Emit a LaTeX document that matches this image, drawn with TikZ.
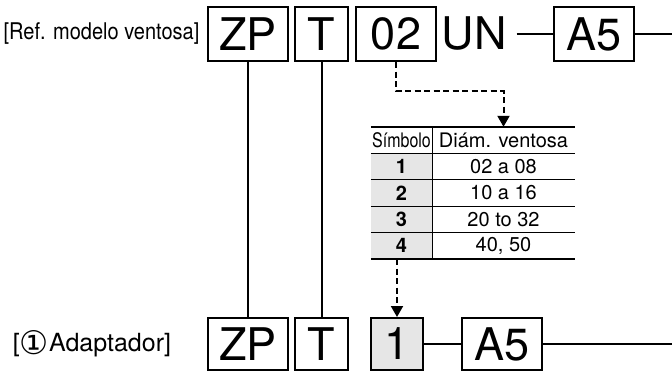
\documentclass[tikz,border=0pt]{standalone}
\usepackage{fontspec}
\setmainfont{TeX Gyre Heros}
\newfontfamily\symfont{DejaVu Sans}
\usepackage{graphicx}
\usepackage{tikz}
\usetikzlibrary{positioning,arrows.meta}
\definecolor{cellgray}{HTML}{E6E6E6}
\begin{document}
\begin{tikzpicture}[x=1pt,y=-1pt,font=\fontsize{45}{45}\selectfont,
  bx/.style={draw,line width=2pt,inner sep=0pt,minimum height=54pt},
  lab/.style={font=\fontsize{23}{23}\selectfont,inner sep=0pt},
  cell/.style={inner sep=0pt,minimum height=26.4pt,font=\fontsize{20}{20}\selectfont},
  dsh/.style={line width=2pt,dash pattern=on 6pt off 3.5pt}]
  \useasboundingbox (0,0) rectangle (672,372);
  % model code of the pad
  \node[lab] (lab1) at (101.5,34) {\scalebox{0.87}[1]{[Ref. modelo ventosa]}};
  \node[bx,minimum width=80pt] (zp1) at (248,34) {ZP};
  \node[bx,minimum width=53pt] (t1) at (321.5,34) {T};
  \node[bx,minimum width=80pt] (c1) at (396,34) {02};
  \node[inner sep=0pt] (un) at (474,34) {UN};
  \node[bx,minimum width=80pt] (a51) at (594,34) {A5};
  \coordinate (e1) at (672,34);
  \draw[line width=2.6pt] ([xshift=10pt]un.east) -- (a51.west);
  \draw[line width=2pt] (a51.east) -- (e1);
  % model code of the adapter
  \node[lab,font=\fontsize{25}{25}\selectfont] (lab2) at (92,344) {[\raisebox{-0.12em}{\scalebox{1.3}{\symfont\fontsize{25}{25}\selectfont ①}}Adaptador]};
  \node[bx,minimum width=80pt,minimum height=52pt] (zp2) at (248,344) {ZP};
  \node[bx,minimum width=53pt,minimum height=52pt] (t2) at (321.5,344) {T};
  \node[bx,minimum width=52pt,minimum height=52pt,fill=cellgray] (one) at (397,344) {1};
  \node[bx,minimum width=80pt,minimum height=52pt] (a52) at (502,344) {A5};
  \coordinate (e2) at (672,344);
  \draw[line width=2.6pt] (one.east) -- (a52.west);
  \draw[line width=2pt] (a52.east) -- (e2);
  \draw[line width=2pt] (zp1.south) -- (zp2.north);
  \draw[line width=2pt] (t1.south) -- (t2.north);
  % table of pad diameters
  \node[cell,minimum width=61pt] (hd1) at (401.5,140.2) {\scalebox{0.8}[1]{Símbolo}};
  \node[cell,minimum width=143pt] (hd2) at (503.5,140.2) {Diám. ventosa};
  \foreach \n/\d [count=\i] in {1/02 a 08,2/10 a 16,3/20 to 32,4/{40, 50}} {
    \node[cell,minimum width=61pt,fill=cellgray] (s\i) at (401.5,{140.2+26.4*\i}) {\textbf{\n}};
    \node[cell,minimum width=143pt] (d\i) at (503.5,{140.2+26.4*\i}) {\d};
    \draw[line width=0.9pt] (s\i.north west) -- (d\i.north east);
  }
  \draw[line width=1.8pt] (hd1.north west) -- (hd2.north east);
  \draw[line width=1.8pt] (s4.south west) -- (d4.south east);
  \draw[line width=1.1pt] (hd1.north east) -- (s4.south east);
  % dashed pointers
  \draw[dsh,-{Triangle[length=11pt,width=12pt]}] (c1.south) -- ++(0,29) -| (hd2.north);
  \draw[dsh,-{Triangle[length=11pt,width=12pt]}] (one.north |- s4.south) -- (one.north);
\end{tikzpicture}
\end{document}
